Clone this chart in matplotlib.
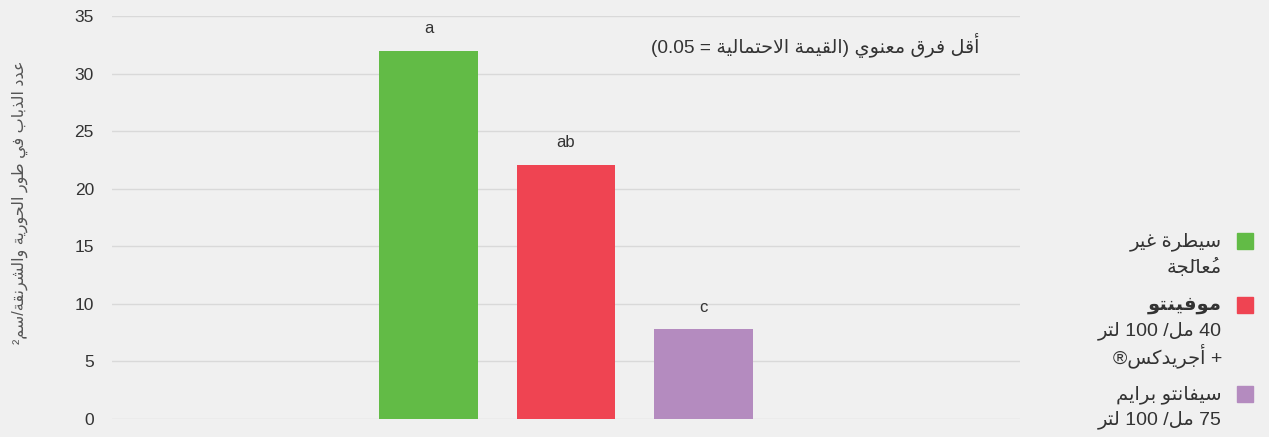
import matplotlib.pyplot as plt
from matplotlib.patches import Rectangle

# values
treatments = ["control", "movento", "sivanto"]
fly_counts = [32.0, 22.1, 7.8]
sig_letters = ["a", "ab", "c"]
bar_colors = ["#62bb46", "#ef4452", "#b48bbf"]
y_ticks = [0, 5, 10, 15, 20, 25, 30, 35]

y_title = "عدد الذباب في طور الحورية والشرنقة/سم²"
lsd_note = "أقل فرق معنوي (القيمة الاحتمالية = 0.05)"
legend_lines = [
    ["سيطرة غير", "مُعالَجة"],
    ["موفينتو", "40 مل/ 100 لتر", "+ أجريدكس®"],
    ["سيفانتو برايم", "75 مل/ 100 لتر"],
]
legend_bold_first = [False, True, False]

TEXT = "#333333"
BG = "#f0f0f0"
FONTS = ["Liberation Sans", "DejaVu Sans"]

# --- minimal arabic shaping (matplotlib has no text shaping) ---
# letter -> first presentation form (isolated), forms follow: final, initial, medial
FORMS = {
    "ء": (0xFE80, 1), "آ": (0xFE81, 2), "أ": (0xFE83, 2), "ؤ": (0xFE85, 2),
    "إ": (0xFE87, 2), "ئ": (0xFE89, 4), "ا": (0xFE8D, 2), "ب": (0xFE8F, 4),
    "ة": (0xFE93, 2), "ت": (0xFE95, 4), "ث": (0xFE99, 4), "ج": (0xFE9D, 4),
    "ح": (0xFEA1, 4), "خ": (0xFEA5, 4), "د": (0xFEA9, 2), "ذ": (0xFEAB, 2),
    "ر": (0xFEAD, 2), "ز": (0xFEAF, 2), "س": (0xFEB1, 4), "ش": (0xFEB5, 4),
    "ص": (0xFEB9, 4), "ض": (0xFEBD, 4), "ط": (0xFEC1, 4), "ظ": (0xFEC5, 4),
    "ع": (0xFEC9, 4), "غ": (0xFECD, 4), "ف": (0xFED1, 4), "ق": (0xFED5, 4),
    "ك": (0xFED9, 4), "ل": (0xFEDD, 4), "م": (0xFEE1, 4), "ن": (0xFEE5, 4),
    "ه": (0xFEE9, 4), "و": (0xFEED, 2), "ى": (0xFEEF, 2), "ي": (0xFEF1, 4),
}
LAM_ALEF = {"آ": 0xFEF5, "أ": 0xFEF7, "إ": 0xFEF9, "ا": 0xFEFB}
MARKS = set(chr(c) for c in range(0x064B, 0x0653))
LTR_CHARS = set("0123456789.²abcdefghijklmnopqrstuvwxyzABCDEFGHIJKLMNOPQRSTUVWXYZ")
MIRROR = {"(": ")", ")": "("}


def shape(s):
    # clusters: base char + following marks
    clusters = []
    for ch in s:
        if ch in MARKS and clusters:
            clusters[-1][1].append(ch)
        else:
            clusters.append([ch, []])
    out = []
    i = 0
    while i < len(clusters):
        ch, marks = clusters[i]
        if ch not in FORMS:
            out.append(ch + "".join(marks))
            i += 1
            continue
        prev = clusters[i - 1][0] if i > 0 else None
        joins_prev = prev in FORMS and FORMS[prev][1] == 4
        nxt = clusters[i + 1][0] if i + 1 < len(clusters) else None
        if ch == "ل" and nxt in LAM_ALEF:
            code = LAM_ALEF[nxt] + (1 if joins_prev else 0)
            out.append("".join(marks + clusters[i + 1][1]) + chr(code))
            i += 2
            continue
        base, n = FORMS[ch]
        joins_next = n == 4 and nxt in FORMS
        if n == 1:
            k = 0
        elif n == 2:
            k = 1 if joins_prev else 0
        elif joins_prev and joins_next:
            k = 3
        elif joins_prev:
            k = 1
        elif joins_next:
            k = 2
        else:
            k = 0
        # mark goes first so it lands on top of its letter once drawn
        out.append("".join(marks) + chr(base + k))
        i += 1
    return out


def rtl(s):
    clusters = shape(s)
    runs = []
    for c in clusters:
        ltr = c[-1] in LTR_CHARS
        if ltr and runs and runs[-1][0]:
            runs[-1][1].append(c)
        else:
            runs.append([ltr, [c]])
    visual = []
    for is_ltr, items in runs[::-1]:
        if is_ltr:
            visual.extend(items)
        else:
            visual.extend(MIRROR.get(c, c) for c in items[::-1])
    return "".join(visual)


plt.rcParams["font.family"] = FONTS

fig = plt.figure(figsize=(12.69, 4.37), dpi=100, facecolor=BG)
ax = fig.add_axes([112 / 1269, 18 / 437, 908 / 1269, 403 / 437])
ax.set_facecolor(BG)

x = list(range(-1, len(treatments) - 1))
ax.bar(x, fly_counts, width=0.72, color=bar_colors, zorder=3)
for xi, val, lab in zip(x, fly_counts, sig_letters):
    ax.text(xi, val + 1.9, lab, ha="center", va="center", fontsize=12, color=TEXT)

ax.set_xlim(-3.31, 3.31)
ax.set_ylim(0, 35)
ax.set_yticks(y_ticks)
ax.set_xticks([])
ax.tick_params(axis="y", length=0, pad=13, labelsize=12.5, labelcolor=TEXT)
ax.grid(axis="y", color="#d9d9d9", linewidth=1, zorder=0)
for sp in ax.spines.values():
    sp.set_visible(False)

ax.set_ylabel(rtl(y_title), fontsize=11.5, color="#555555")
ax.yaxis.set_label_coords(-0.0925, 0.538)

ax.text(0.955, 0.928, rtl(lsd_note), transform=ax.transAxes, ha="right",
        va="center", fontsize=13.8, color=TEXT)

# legend on the right, text to the left of the square
y_px = 242
for lines, bold, col in zip(legend_lines, legend_bold_first, bar_colors):
    fig.add_artist(Rectangle((1237 / 1269, 1 - (y_px + 7) / 437), 16 / 1269, 16 / 437,
                             transform=fig.transFigure, color=col))
    for j, line in enumerate(lines):
        fig.text(1222 / 1269, 1 - (y_px + j * 25) / 437, rtl(line), ha="right",
                 va="center", fontsize=14, color=TEXT,
                 fontweight="bold" if (bold and j == 0) else "normal")
    y_px += len(lines) * 25 + 14

fig.savefig("out.png", dpi=100, facecolor=BG)
